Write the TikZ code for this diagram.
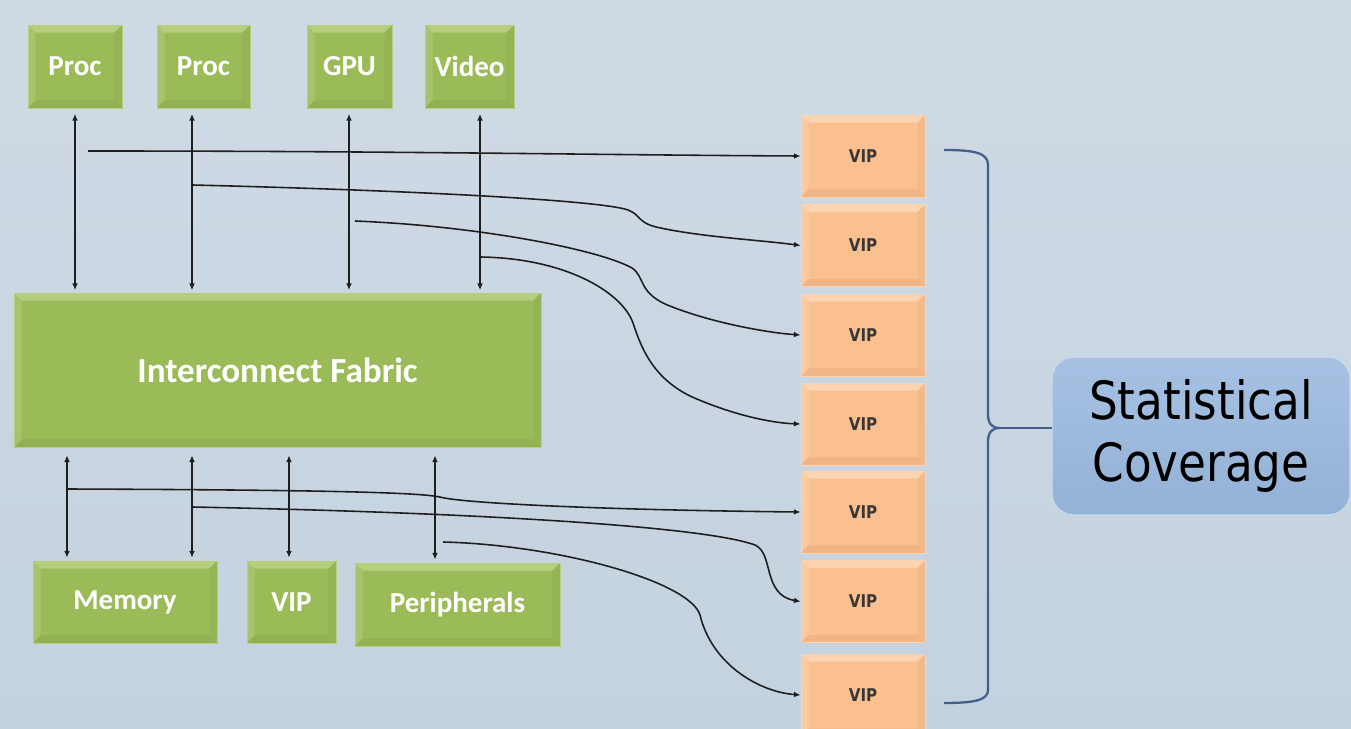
\documentclass[tikz,border=0pt]{standalone}
\usepackage{fontspec}
\usepackage{xcolor}
\usepackage{tikz}
\usetikzlibrary{arrows.meta,positioning,calc}

\setmainfont{Carlito}
\newfontfamily\vipfont[FakeStretch=0.86]{DejaVu Sans}

\definecolor{bgtop}{RGB}{207,218,228}
\definecolor{bgbot}{RGB}{196,210,223}
\definecolor{socgreen}{RGB}{155,187,89}
\definecolor{socgreenhi}{RGB}{182,206,126}
\definecolor{socgreenlo}{RGB}{145,177,82}
\definecolor{viporange}{RGB}{250,192,144}
\definecolor{viporangehi}{RGB}{252,212,178}
\definecolor{viporangelo}{RGB}{241,181,133}
\definecolor{viptext}{RGB}{55,55,55}
\definecolor{statblue}{RGB}{148,178,214}
\definecolor{statbluehi}{RGB}{166,193,226}
\definecolor{bracecol}{RGB}{66,96,140}
\definecolor{linecol}{RGB}{30,30,30}

\tikzset{
    bevel/.style 2 args={path picture={
        \fill[#1] (path picture bounding box.north west) -- (path picture bounding box.north east)
            -- ($(path picture bounding box.north east)+(-0.15cm,-0.15cm)$)
            -- ($(path picture bounding box.north west)+(0.15cm,-0.15cm)$) -- cycle;
        \fill[#1, opacity=0.5] (path picture bounding box.north west) -- (path picture bounding box.south west)
            -- ($(path picture bounding box.south west)+(0.15cm,0.15cm)$)
            -- ($(path picture bounding box.north west)+(0.15cm,-0.15cm)$) -- cycle;
        \fill[#2] (path picture bounding box.south west) -- (path picture bounding box.south east)
            -- ($(path picture bounding box.south east)+(-0.15cm,0.15cm)$)
            -- ($(path picture bounding box.south west)+(0.15cm,0.15cm)$) -- cycle;
        \fill[#2, opacity=0.6] (path picture bounding box.north east) -- (path picture bounding box.south east)
            -- ($(path picture bounding box.south east)+(-0.15cm,0.15cm)$)
            -- ($(path picture bounding box.north east)+(-0.15cm,-0.15cm)$) -- cycle;
    }},
    blk/.style={rectangle, inner sep=0pt, fill=socgreen, draw=socgreenhi, line width=0.4pt,
        bevel={socgreenhi}{socgreenlo}, text=white, font=\fontsize{16.5}{19}\selectfont\bfseries},
    vipbox/.style={rectangle, inner sep=0pt, fill=viporange, draw=viporangehi, line width=0.4pt,
        bevel={viporangehi}{viporangelo}, minimum width=2.48cm, minimum height=1.64cm,
        text=viptext, font=\vipfont\bfseries\fontsize{10}{12}\selectfont},
    statbox/.style={rectangle, rounded corners=0.44cm, top color=statbluehi, bottom color=statblue,
        draw=statbluehi!60!white, line width=0.6pt, align=center, inner sep=0pt,
        minimum width=5.96cm, minimum height=3.16cm,
        font=\vipfont\fontsize{30}{35}\selectfont},
    biarrow/.style={{Latex[length=3.8pt,width=3.2pt]}-{Latex[length=3.8pt,width=3.2pt]}, line width=0.9pt,
        draw=linecol},
    sigline/.style={-{Latex[length=3.8pt,width=3.2pt]}, line width=0.9pt, draw=linecol}
}

\begin{document}
\begin{tikzpicture}[x=0.02cm, y=-0.02cm]
    % Background
    \fill[top color=bgtop, bottom color=bgbot] (0,0) rectangle (1351,729);
    \useasboundingbox (0,0) rectangle (1351,729);

    % Masters: name / label / x / width
    \foreach \n/\t/\x/\w in {proc1/Proc/75/94, proc2/Proc/203.5/93, gpu/GPU/349.5/85, video/Video/469.5/89} {
        \node[blk, minimum width=\w*0.02cm, minimum height=1.66cm] (\n) at (\x,66.5) {\t};
    }

    % Fabric
    \node[blk, minimum width=10.54cm, minimum height=3.08cm, font=\fontsize{20}{24}\selectfont\bfseries]
        (fabric) at (277.5,370) {Interconnect Fabric};

    % Slaves
    \node[blk, minimum width=3.68cm, minimum height=1.64cm] (mem) at (125,602) {Memory};
    \node[blk, minimum width=1.78cm, minimum height=1.64cm] (vipg) at (291.5,602) {VIP};
    \node[blk, minimum width=4.10cm, minimum height=1.66cm] (peri) at (457.5,604.5) {Peripherals};

    % Monitor VIPs
    \foreach \i/\y in {1/156,2/245.5,3/335,4/424,5/512,6/601.5,7/695} {
        \node[vipbox] (vip\i) at (863,\y) {VIP};
    }

    % Coverage box
    \node[statbox] (stat) at (1201,436) {Statistical\\Coverage};

    % Bus arrows, top
    \foreach \n/\x in {proc1/75, proc2/192, gpu/349, video/480} {
        \draw[biarrow, shorten <=0.11cm, shorten >=0.05cm] (\n.south -| \x,0) -- (fabric.north -| \x,0);
    }

    % Bus arrows, bottom
    \foreach \n/\x in {mem/67, mem/192, vipg/289, peri/435} {
        \draw[biarrow, shorten <=0.16cm, shorten >=0.06cm] (fabric.south -| \x,0) -- (\n.north -| \x,0);
    }

    % Taps
    \coordinate (s1) at (88,151);
    \coordinate (s2) at (192,185);
    \coordinate (s3) at (355,221);
    \coordinate (s4) at (480,257);
    \coordinate (s5) at (67,489);
    \coordinate (s6) at (192,507);
    \coordinate (s7) at (443,542);

    % Monitor lines
    \draw[sigline] (s1) .. controls (400,151) and (600,155) .. (vip1.west);
    \draw[sigline] (s2) .. controls (400,190) and (600,200) .. (628,210)
        .. controls (641,215) and (637,222) .. (656,227)
        .. controls (700,237) and (760,240) .. (vip2.west);
    \draw[sigline] (s3) .. controls (480,226) and (600,250) .. (632,268)
        .. controls (645,277) and (638,291) .. (665,304)
        .. controls (710,323) and (770,333) .. (vip3.west);
    \draw[sigline] (s4) .. controls (565,258) and (622,292) .. (633,323)
        .. controls (641,347) and (652,377) .. (690,396)
        .. controls (730,414) and (770,423) .. (vip4.west);
    \draw[sigline] (s5) .. controls (350,490) and (420,493) .. (440,497)
        .. controls (460,503) and (600,510) .. (vip5.west);
    \draw[sigline] (s6) .. controls (450,512) and (700,525) .. (755,545)
        .. controls (774,553) and (762,595) .. (vip6.west);
    \draw[sigline] (s7) .. controls (560,545) and (690,582) .. (700,615)
        .. controls (712,665) and (760,692) .. (vip7.west);

    % Brace
    \coordinate (bt) at (944,150);
    \coordinate (bb) at (944,703);
    \coordinate (bm) at (1000,428);
    \draw[bracecol, line width=1.3pt] (bt) .. controls (975,150) and (988,153) .. (988,165) -- (988,414)
        .. controls (988,424) and (992,428) .. (bm)
        .. controls (992,428) and (988,432) .. (988,442) -- (988,690)
        .. controls (988,700) and (975,703) .. (bb);
    \draw[bracecol, line width=1.3pt] (bm) -- (bm -| stat.west);
\end{tikzpicture}
\end{document}
